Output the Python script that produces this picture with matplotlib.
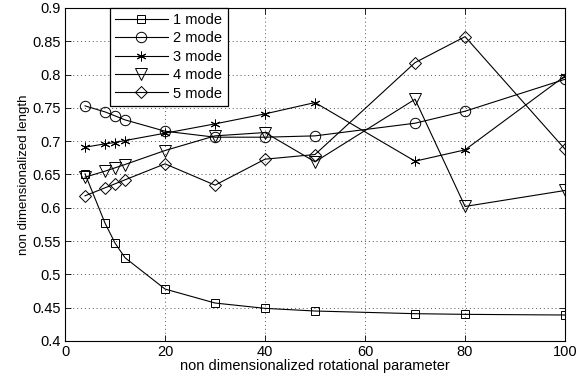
import matplotlib
matplotlib.use('Agg')
import matplotlib.pyplot as plt

plt.rcParams['font.family'] = ['Liberation Sans', 'DejaVu Sans']

x = [4, 8, 10, 12, 20, 30, 40, 50, 70, 80, 100]
mode1 = [0.651, 0.577, 0.547, 0.525, 0.478, 0.457, 0.449, 0.445, 0.441, 0.440, 0.439]
mode2 = [0.753, 0.744, 0.738, 0.732, 0.715, 0.706, 0.706, 0.708, 0.727, 0.745, 0.793]
mode3 = [0.691, 0.696, 0.698, 0.701, 0.712, 0.726, 0.741, 0.758, 0.670, 0.687, 0.798]
mode4 = [0.646, 0.655, 0.660, 0.665, 0.686, 0.708, 0.713, 0.669, 0.763, 0.602, 0.626]
mode5 = [0.618, 0.630, 0.636, 0.642, 0.666, 0.634, 0.673, 0.680, 0.818, 0.857, 0.688]

labels = ['1 mode', '2 mode', '3 mode', '4 mode', '5 mode']
markers = ['s', 'o', (6, 2, 0), 'v', 'D']
sizes = [6, 7.5, 7, 8, 6]

fig = plt.figure(figsize=(5.77, 3.79), dpi=100)
ax = fig.add_axes([0.1127, 0.1003, 0.8666, 0.8786])

for y, lab, m, ms in zip([mode1, mode2, mode3, mode4, mode5], labels, markers, sizes):
    ax.plot(x, y, color='black', lw=0.8, marker=m, markersize=ms,
            markerfacecolor='none', markeredgecolor='black',
            markeredgewidth=0.7, label=lab)

ax.set_xlim(0, 100)
ax.set_ylim(0.4, 0.9)
ax.set_xticks(range(0, 101, 20))
ax.set_yticks([0.4, 0.45, 0.5, 0.55, 0.6, 0.65, 0.7, 0.75, 0.8, 0.85, 0.9])
ax.set_yticklabels(['0.4', '0.45', '0.5', '0.55', '0.6', '0.65', '0.7', '0.75', '0.8', '0.85', '0.9'])
ax.tick_params(direction='in', top=True, right=True, labelsize=10.5, length=4, width=0.6, pad=3)
ax.grid(True, linestyle=(0, (1, 3)), color='#555555', lw=0.7)
for s in ax.spines.values():
    s.set_linewidth(0.8)

ax.set_xlabel('non dimensionalized rotational parameter', fontsize=10.5, labelpad=0)
ax.set_ylabel('non dimensionalized length', fontsize=9.5, labelpad=2)

leg = ax.legend(loc='upper left', bbox_to_anchor=(0.09, 1.0), borderaxespad=0,
                fontsize=10.5, fancybox=False, framealpha=1, edgecolor='black',
                handlelength=3.6, labelspacing=0.3, borderpad=0.35, handletextpad=0.4)
leg.get_frame().set_linewidth(0.9)

fig.savefig('out.png', dpi=100)
